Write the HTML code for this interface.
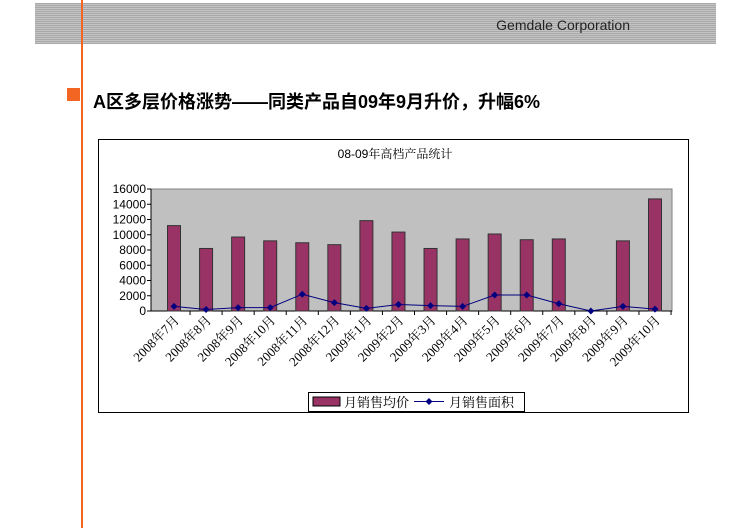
<!DOCTYPE html>
<html><head><meta charset="utf-8"><style>
body{margin:0;width:748px;height:528px;background:#fff;overflow:hidden;position:relative;font-family:"Liberation Sans","Noto Sans CJK SC",sans-serif}
#hdr{position:absolute;left:35px;top:3px;width:681px;height:41px;background:repeating-linear-gradient(to bottom,#a8a8a8 0 1px,#c4c4c4 1px 2px)}
#hdr span{position:absolute;right:86px;top:14px;font-size:14px;color:#222}
#vline{position:absolute;left:81px;top:0;width:2px;height:528px;background:#f26522}
#sq{position:absolute;left:67px;top:88px;width:13px;height:13px;background:#f26522}
#title{position:absolute;left:93px;top:88px;font-size:18px;font-weight:bold;color:#000;font-family:"Liberation Sans","Noto Sans CJK SC",sans-serif}
svg{position:absolute;left:0;top:0}
.serif{font-family:"Liberation Serif","Noto Serif CJK SC",serif}
</style></head><body>
<div id="hdr"><span>Gemdale Corporation</span></div>
<div id="vline"></div>
<div id="sq"></div>
<div id="title">A区多层价格涨势——同类产品自09年9月升价，升幅6%</div>
<svg id="chart" width="748" height="528"></svg>
<script>
const categories=["2008年7月","2008年8月","2008年9月","2008年10月","2008年11月","2008年12月","2009年1月","2009年2月","2009年3月","2009年4月","2009年5月","2009年6月","2009年7月","2009年8月","2009年9月","2009年10月"];
const priceValues=[11200,8200,9700,9200,8950,8700,11850,10350,8200,9450,10100,9350,9450,0,9200,14700];
const areaValues=[600,200,450,450,2200,1100,350,850,700,600,2100,2100,950,0,600,250];
const yTicks=[0,2000,4000,6000,8000,10000,12000,14000,16000];
const NS="http://www.w3.org/2000/svg";
const svg=document.getElementById('chart');
const X0=151,X1=672,Y0=311,Y1=189,YMAX=16000;
const FIRST=174,step=(655-174)/(categories.length-1);
const xC=i=>FIRST+step*i;
const y=v=>Y0-(v/YMAX)*(Y0-Y1);
function mk(t,a,p){const e=document.createElementNS(NS,t);for(const k in a)e.setAttribute(k,a[k]);(p||svg).appendChild(e);return e;}
let e;
e=mk('rect',{x:98.5,y:139.5,width:590,height:273,fill:'#fff',stroke:'#000'});


e=mk('text',{x:395,y:158,'font-size':12,'text-anchor':'middle',fill:'#000'});
e.innerHTML='<tspan font-family="Liberation Sans,sans-serif">08-09</tspan><tspan class="serif">年高档产品统计</tspan>';


e=mk('rect',{x:X0,y:Y1,width:X1-X0,height:Y0-Y1,fill:'#c0c0c0',stroke:'#808080'});


yTicks.forEach(v=>{
 e=mk('text',{x:146,y:y(v)+4,'font-size':12,'text-anchor':'end',fill:'#000'});e.textContent=v;
 
 
 mk('line',{x1:147,x2:X0,y1:y(v),y2:y(v),stroke:'#000'});
});
mk('line',{x1:X0,x2:X0,y1:Y1,y2:Y0,stroke:'#000'});
mk('line',{x1:X0,x2:X1,y1:Y0,y2:Y0,stroke:'#000'});
categories.forEach((c,i)=>{
 mk('line',{x1:xC(i)+step/2,x2:xC(i)+step/2,y1:Y0,y2:Y0+4,stroke:'#000'});
 const v=priceValues[i];
 if(v>0){
  e=mk('rect',{x:xC(i)-6.5,y:y(v),width:13,height:Y0-y(v),fill:'#993366',stroke:'#333','stroke-width':1});
  
  
 }
 const tx=xC(i)+6,ty=Y0+10;
 e=mk('text',{x:tx,y:ty,'font-size':13,'text-anchor':'end',transform:`rotate(-45 ${tx} ${ty})`,fill:'#000',class:'serif'});e.textContent=c;
 
 
});
e=mk('polyline',{points:areaValues.map((v,i)=>xC(i)+','+y(v)).join(' '),fill:'none',stroke:'#000080','stroke-width':1});


areaValues.forEach((v,i)=>{
 e=mk('path',{d:`M${xC(i)} ${y(v)-3.5}l3.5 3.5l-3.5 3.5l-3.5 -3.5z`,fill:'#000080'});
 
 
});
e=mk('rect',{x:308.5,y:392.5,width:216,height:19,fill:'#fff',stroke:'#000'});


mk('rect',{x:313,y:397,width:27,height:9,fill:'#993366',stroke:'#000'});
e=mk('text',{x:344,y:407,'font-size':13,fill:'#000',class:'serif'});e.textContent='月销售均价';


mk('line',{x1:414,x2:444,y1:401.5,y2:401.5,stroke:'#000080'});
mk('path',{d:'M429 398l3.5 3.5l-3.5 3.5l-3.5 -3.5z',fill:'#000080'});
e=mk('text',{x:449,y:407,'font-size':13,fill:'#000',class:'serif'});e.textContent='月销售面积';


</script>
</body></html>
